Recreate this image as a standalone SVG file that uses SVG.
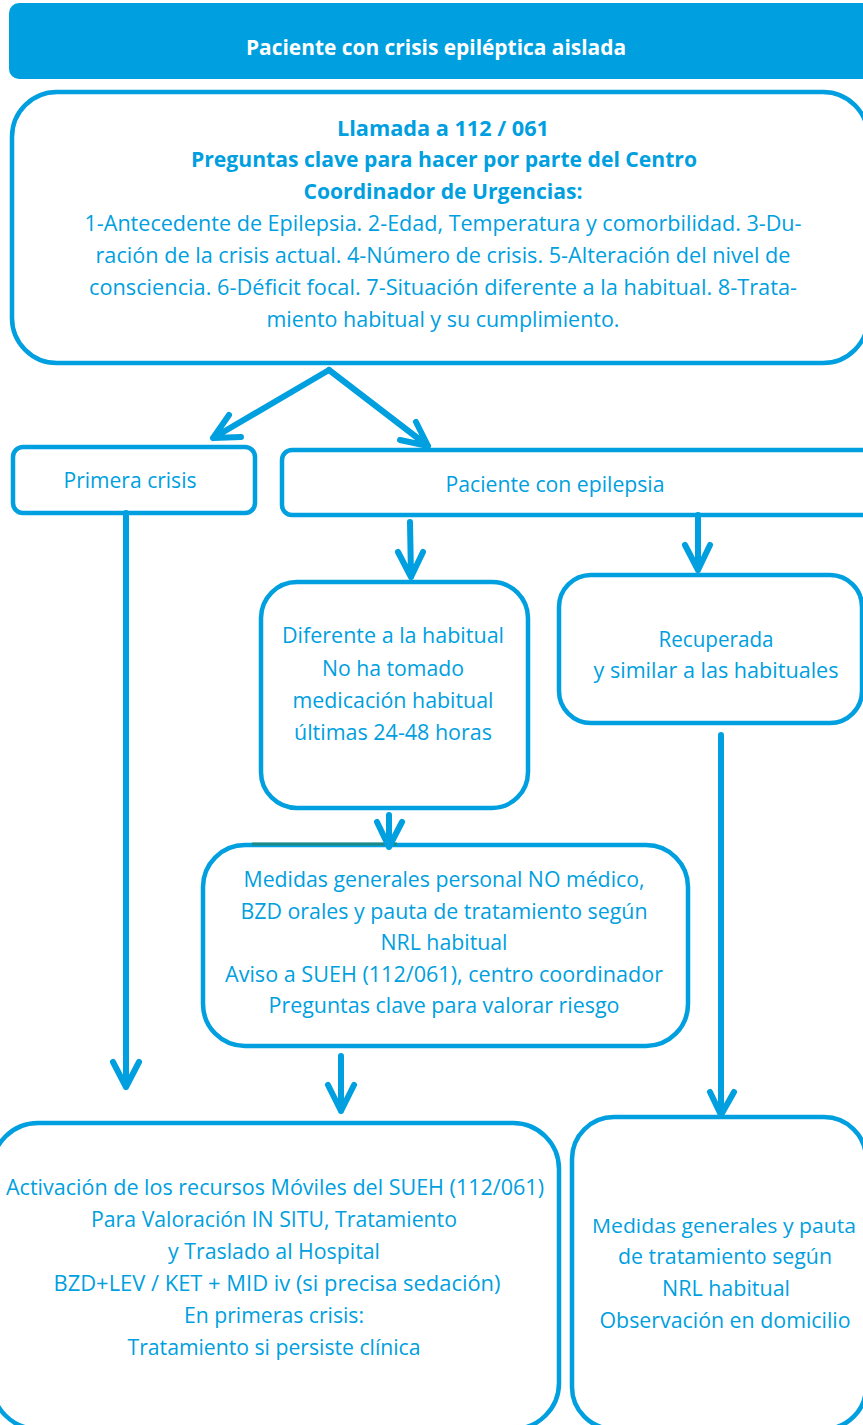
<svg xmlns="http://www.w3.org/2000/svg" width="863" height="1425" viewBox="0 0 863 1425">
  <style>
    .box { fill: #ffffff; stroke: #009FDF; stroke-width: 4.5; }
    .head { fill: #009FDF; }
    .t { font-family: "Open Sans", "Noto Sans", "Liberation Sans", sans-serif; font-size: 22px; fill: #009FDF; text-anchor: middle; }
    .b { font-weight: bold; }
    .w { fill: #ffffff; }
    .edge { fill: none; stroke: #009FDF; stroke-width: 6; stroke-linecap: round; stroke-linejoin: round; }
  </style>

  <!-- title band -->
  <g id="title">
    <rect class="head" x="9" y="3" width="870" height="76" rx="10"/>
    <text class="t b w" x="436" y="55" textLength="380" lengthAdjust="spacingAndGlyphs">Paciente con crisis epiléptica aislada</text>
  </g>

  <!-- emergency call and key questions -->
  <g id="llamada">
    <rect class="box" x="12" y="92" width="856" height="271" rx="45"/>
    <text class="t b" x="443" y="136" textLength="212" lengthAdjust="spacingAndGlyphs">Llamada a 112 / 061</text>
    <text class="t b" x="444" y="167" textLength="506" lengthAdjust="spacingAndGlyphs">Preguntas clave para hacer por parte del Centro</text>
    <text class="t b" x="443" y="199" textLength="279" lengthAdjust="spacingAndGlyphs">Coordinador de Urgencias:</text>
    <text class="t" x="443" y="231" textLength="717" lengthAdjust="spacingAndGlyphs">1-Antecedente de Epilepsia. 2-Edad, Temperatura y comorbilidad. 3-Du-</text>
    <text class="t" x="443" y="263" textLength="695" lengthAdjust="spacingAndGlyphs">ración de la crisis actual. 4-Número de crisis. 5-Alteración del nivel de</text>
    <text class="t" x="443" y="295" textLength="708" lengthAdjust="spacingAndGlyphs">consciencia. 6-Déficit focal. 7-Situación diferente a la habitual. 8-Trata-</text>
    <text class="t" x="443" y="327" textLength="353" lengthAdjust="spacingAndGlyphs">miento habitual y su cumplimiento.</text>
  </g>

  <g id="primera">
    <rect class="box" x="13" y="447" width="242" height="66" rx="10"/>
    <text class="t" x="130" y="488" textLength="133" lengthAdjust="spacingAndGlyphs">Primera crisis</text>
  </g>

  <g id="epilepsia">
    <rect class="box" x="282" y="450" width="590" height="65" rx="10"/>
    <text class="t" x="555" y="492" textLength="219" lengthAdjust="spacingAndGlyphs">Paciente con epilepsia</text>
  </g>

  <g id="diferente">
    <rect class="box" x="261" y="582" width="267" height="226" rx="36"/>
    <text class="t" x="393" y="643" textLength="222" lengthAdjust="spacingAndGlyphs">Diferente a la habitual</text>
    <text class="t" x="393" y="676" textLength="142" lengthAdjust="spacingAndGlyphs">No ha tomado</text>
    <text class="t" x="393" y="708" textLength="201" lengthAdjust="spacingAndGlyphs">medicación habitual</text>
    <text class="t" x="393" y="740" textLength="198" lengthAdjust="spacingAndGlyphs">últimas 24-48 horas</text>
  </g>

  <g id="recuperada">
    <rect class="box" x="559" y="575" width="303" height="148" rx="32"/>
    <text class="t" x="716" y="647" textLength="115" lengthAdjust="spacingAndGlyphs">Recuperada</text>
    <text class="t" x="716" y="678" textLength="245" lengthAdjust="spacingAndGlyphs">y similar a las habituales</text>
  </g>

  <g id="medidas">
    <rect class="box" x="203" y="845" width="485" height="201" rx="42"/>
    <line x1="252" y1="844" x2="397" y2="844" stroke="#1E8A86" stroke-width="3"/>
    <text class="t" x="444" y="887" textLength="401" lengthAdjust="spacingAndGlyphs">Medidas generales personal NO médico,</text>
    <text class="t" x="444" y="919" textLength="407" lengthAdjust="spacingAndGlyphs">BZD orales y pauta de tratamiento según</text>
    <text class="t" x="444" y="950" textLength="127" lengthAdjust="spacingAndGlyphs">NRL habitual</text>
    <text class="t" x="444" y="982" textLength="438" lengthAdjust="spacingAndGlyphs">Aviso a SUEH (112/061), centro coordinador</text>
    <text class="t" x="444" y="1013" textLength="351" lengthAdjust="spacingAndGlyphs">Preguntas clave para valorar riesgo</text>
  </g>

  <g id="activacion">
    <rect class="box" x="-8" y="1123" width="567" height="306" rx="46"/>
    <text class="t" x="275" y="1195" textLength="538" lengthAdjust="spacingAndGlyphs">Activación de los recursos Móviles del SUEH (112/061)</text>
    <text class="t" x="274" y="1227" textLength="366" lengthAdjust="spacingAndGlyphs">Para Valoración IN SITU, Tratamiento</text>
    <text class="t" x="274" y="1259" textLength="212" lengthAdjust="spacingAndGlyphs">y Traslado al Hospital</text>
    <text class="t" x="277" y="1291" textLength="447" lengthAdjust="spacingAndGlyphs">BZD+LEV / KET + MID iv (si precisa sedación)</text>
    <text class="t" x="274" y="1323" textLength="180" lengthAdjust="spacingAndGlyphs">En primeras crisis:</text>
    <text class="t" x="274" y="1355" textLength="293" lengthAdjust="spacingAndGlyphs">Tratamiento si persiste clínica</text>
  </g>

  <g id="domicilio">
    <rect class="box" x="572" y="1117" width="294" height="312" rx="42"/>
    <text class="t" x="724" y="1233" font-size="20" style="font-size:20px" textLength="264" lengthAdjust="spacingAndGlyphs">Medidas generales y pauta</text>
    <text class="t" x="725" y="1264" textLength="214" lengthAdjust="spacingAndGlyphs">de tratamiento según</text>
    <text class="t" x="726" y="1296" textLength="128" lengthAdjust="spacingAndGlyphs">NRL habitual</text>
    <text class="t" x="725" y="1328" textLength="251" lengthAdjust="spacingAndGlyphs">Observación en domicilio</text>
  </g>

  <!-- connectors: shafts with open V heads -->
  <g id="connectors">
    <path class="edge" d="M329 370 L213 438 M229 415 L213 438 L241 437"/>
    <path class="edge" d="M329 370 L428 446 M416 422 L428 446 L400 440"/>
    <path class="edge" d="M126 513 L126 1087 M113 1062 L126 1087 L139 1062"/>
    <path class="edge" d="M410 522 L411 577 M398 552 L411 577 L423 552"/>
    <path class="edge" d="M698 515 L698 570 M685 545 L698 570 L710 545"/>
    <path class="edge" d="M389 815 L389 847 M377 822 L389 847 L402 822"/>
    <path class="edge" d="M341 1056 L341 1111 M328 1085 L341 1111 L354 1085"/>
    <path class="edge" d="M721 735 L721 1115 M710 1092 L721 1115 L734 1092"/>
  </g>
</svg>
